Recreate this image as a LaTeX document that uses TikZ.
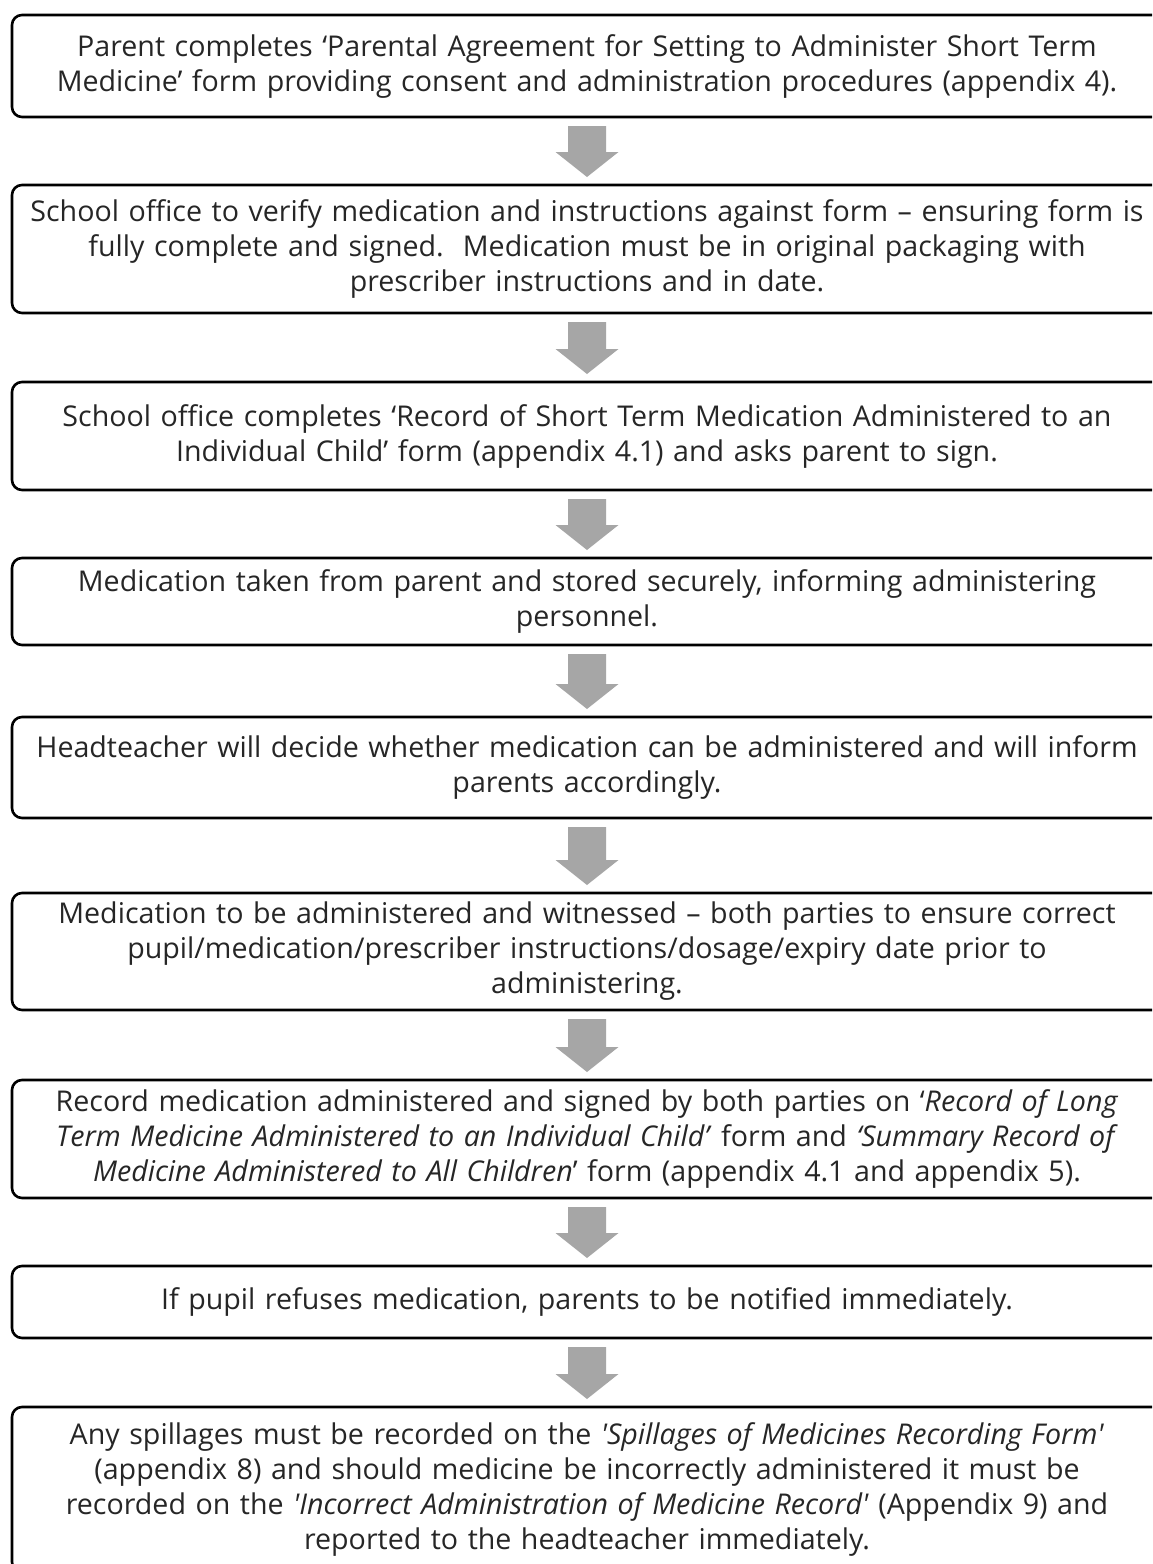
\documentclass[tikz,border=0pt]{standalone}
\usepackage{fontspec}
\setmainfont{Open Sans}[Ligatures=TeXOff]
\usetikzlibrary{calc}
\definecolor{arrowgray}{HTML}{A6A6A6}
\definecolor{txt}{HTML}{262626}
\tikzset{
  stepbox/.style={draw=black, line width=2.6pt, rounded corners=10pt, fill=white,
    anchor=north west, minimum width=1150pt, text width=1150pt, inner xsep=0pt,
    outer sep=0pt, align=center, text=txt, font=\fontsize{28.6}{35}\selectfont},
}
\newcommand\flowarrow[2]{%
  \fill[arrowgray] ($(#1.south)+(-19,9)$) -- ($(#1.south)+(19,9)$)
    -- ($(#2.north)+(19,-33)$) -- ($(#2.north)+(31.5,-33)$)
    -- ($(#2.north)+(0,-8)$) -- ($(#2.north)+(-31.5,-33)$)
    -- ($(#2.north)+(-19,-33)$) -- cycle;}
\begin{document}
\begin{tikzpicture}[x=1pt,y=-1pt]
\useasboundingbox (0,0) rectangle (1152,1564);
\fill[white] (0,0) rectangle (1152,1564);
\clip (0,0) rectangle (1152,1564);
\node[stepbox, minimum height=102pt] (b1) at (12,15)
  {Parent completes ‘Parental Agreement for Setting to Administer Short Term\\
   Medicine’ form providing consent and administration procedures (appendix 4).};
\node[stepbox, minimum height=128pt] (b2) at (12,185)
  {School office to verify medication and instructions against form – ensuring form is\\
   fully complete and signed.\ \ Medication must be in original packaging with\\
   prescriber instructions and in date.};
\node[stepbox, minimum height=108pt] (b3) at (12,382)
  {School office completes ‘Record of Short Term Medication Administered to an\\
   Individual Child’ form (appendix 4.1) and asks parent to sign.};
\node[stepbox, minimum height=87pt] (b4) at (12,558)
  {Medication taken from parent and stored securely, informing administering\\
   personnel.};
\node[stepbox, minimum height=101pt] (b5) at (12,717)
  {Headteacher will decide whether medication can be administered and will inform\\
   parents accordingly.};
\node[stepbox, minimum height=117pt] (b6) at (12,893)
  {Medication to be administered and witnessed – both parties to ensure correct\\
   pupil/medication/prescriber instructions/dosage/expiry date prior to\\
   administering.};
\node[stepbox, minimum height=118pt] (b7) at (12,1080)
  {Record medication administered and signed by both parties on ‘\textit{Record of Long}\\
   \textit{Term Medicine Administered to an Individual Child’} form and \textit{‘Summary Record of}\\
   \textit{Medicine Administered to All Children}’ form (appendix 4.1 and appendix 5).};
\node[stepbox, minimum height=72pt] (b8) at (12,1266)
  {If pupil refuses medication, parents to be notified immediately.};
\node[stepbox, minimum height=165pt] (b9) at (12,1407)
  {Any spillages must be recorded on the \textit{'Spillages of Medicines Recording Form'}\\
   (appendix 8) and should medicine be incorrectly administered it must be\\
   recorded on the \textit{'Incorrect Administration of Medicine Record'} (Appendix 9) and\\
   reported to the headteacher immediately.};
\flowarrow{b1}{b2}
\flowarrow{b2}{b3}
\flowarrow{b3}{b4}
\flowarrow{b4}{b5}
\flowarrow{b5}{b6}
\flowarrow{b6}{b7}
\flowarrow{b7}{b8}
\flowarrow{b8}{b9}
\end{tikzpicture}
\end{document}
